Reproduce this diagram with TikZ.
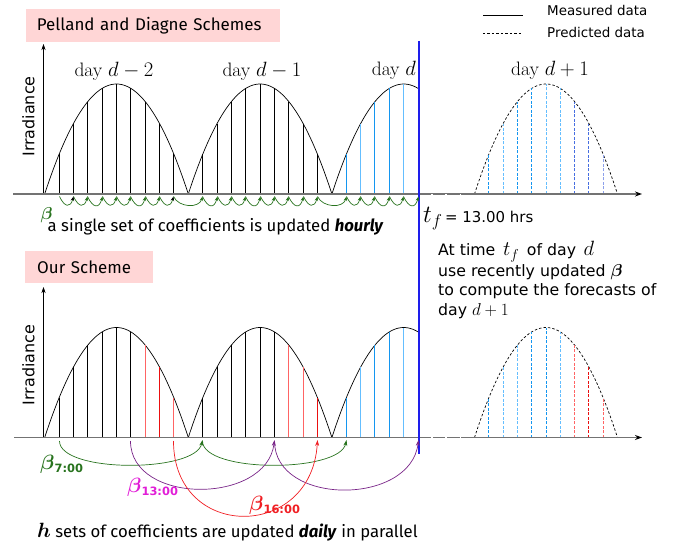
\documentclass[tikz,border=0pt]{standalone}
\usepackage{fontspec}
\usepackage{amsmath}
\usetikzlibrary{arrows.meta,calc}
\newfontfamily\ubu{Fira Sans}
\newfontfamily\dvs{DejaVu Sans}
\definecolor{pinkbox}{RGB}{255,214,214}
\definecolor{gline}{RGB}{115,115,115}
\definecolor{garrow}{RGB}{40,115,30}
\definecolor{parrow}{RGB}{120,35,135}
\definecolor{rarrow}{RGB}{240,30,35}
\definecolor{magl}{RGB}{225,30,215}
\definecolor{skyA}{RGB}{20,150,240}
\definecolor{skyB}{RGB}{100,190,255}
\definecolor{skyC}{RGB}{70,110,225}
\definecolor{skyD}{RGB}{140,160,235}
\definecolor{redA}{RGB}{255,100,100}
\definecolor{redB}{RGB}{235,15,15}
\definecolor{vblue}{RGB}{30,30,235}
\newcommand\mth[2]{{\fontsize{#1}{#1}\selectfont$#2$}}
\newcommand\subl[1]{\raisebox{-4pt}{\dvs\bfseries\fontsize{11.5}{11.5}\selectfont #1}}
\begin{document}
\begin{tikzpicture}[x=1bp,y=-1bp,
  curve/.style={black, line width=0.7pt},
  pcurve/.style={black, line width=0.7pt, dash pattern=on 2.5pt off 2pt},
  vline/.style={line width=1bp},
  dvline/.style={line width=1bp, dash pattern=on 3bp off 1.5bp},
  axisline/.style={gline, line width=1.5pt, -{Stealth[black,length=7pt,width=5pt]}},
  yaxis/.style={black, line width=0.6pt, -{Stealth[length=6pt,width=4pt]}},
  hop/.style={garrow, line width=0.7pt, -{Stealth[length=4.5pt,width=3.5pt]}, out=-65, in=-105, looseness=2.2},
  longhop/.style={hop, looseness=1.1},
  bigarrow/.style={line width=0.7pt, -{Stealth[length=6pt,width=4pt]}},
  titlebox/.style={fill=pinkbox, inner ysep=0pt, align=left, anchor=west, font=\ubu\fontsize{17}{17}\selectfont},
  daylabel/.style={font=\fontsize{19.5}{20}\selectfont, anchor=base},
  sidetext/.style={font=\dvs\fontsize{15.8}{15.8}\selectfont, anchor=base west, inner sep=0pt},
  legtext/.style={font=\dvs\fontsize{13.5}{13.5}\selectfont, anchor=base west, inner sep=0pt},
  ylab/.style={font=\dvs\fontsize{16}{16}\selectfont, rotate=90, anchor=base, inner sep=0pt},
  captext/.style={font=\ubu\fontsize{16.8}{16.8}\selectfont, anchor=base west, inner sep=0pt}
]
\useasboundingbox (0,0) rectangle (675,543);

% ---------- titles and legend
\node[titlebox, inner xsep=10.7bp, text width=232.6bp, minimum height=33bp] (t1) at (26,25.5) {Pelland and Diagne Schemes};
\node[titlebox, inner xsep=12bp, text width=104bp, minimum height=32bp] (t2) at (25,267) {Our Scheme};
\coordinate (l1a) at (483,15.7); \coordinate (l1b) at (523,15.7);
\coordinate (l2a) at (483,33.3); \coordinate (l2b) at (523,33.3);
\draw[curve] (l1a) -- (l1b);
\draw[pcurve] (l2a) -- (l2b);
\node[legtext] (lg1) at (547,16) {Measured data};
\node[legtext] (lg2) at (547,38) {Predicted data};

% ---------- axes
\node[ylab] (yl1) at (34.3,116.5) {Irradiance};
\node[ylab] (yl2) at (34.3,365) {Irradiance};
\coordinate (o1) at (43.5,194); \coordinate (y1) at (43.5,44);
\coordinate (o2) at (43.5,437.5); \coordinate (y2) at (43.5,287);
\draw[yaxis] (o1) -- (y1);
\draw[yaxis] (o2) -- (y2);

% ---------- parabolas
\foreach \B in {194,437.5}{
  \draw[curve] plot[domain=0:10,samples=61] ({44.7+\x*14.36},{\B-110*(1-((\x-5)/5)*((\x-5)/5))});
  \draw[curve] plot[domain=0:10,samples=61] ({188.3+\x*14.36},{\B-110*(1-((\x-5)/5)*((\x-5)/5))});
  \draw[curve] plot[domain=0:6,samples=41] ({331.9+\x*14.36},{\B-110*(1-((\x-5)/5)*((\x-5)/5))});
  \draw[pcurve] plot[domain=0:10,samples=61] ({474.5+\x*14.3},{\B-110*(1-((\x-5)/5)*((\x-5)/5))});
}

% ---------- vertical lines, top panel
\foreach \k/\col in {1/black,2/black,3/black,4/black,5/black,6/black,7/black,8/black,9/black,
  11/black,12/black,13/black,14/black,15/black,16/black,17/black,18/black,19/black,
  21/skyA,22/skyB,23/skyA,24/skyA,25/skyB}{
  \pgfmathsetmacro\xx{floor(44.7+\k*14.36)+0.5}
  \pgfmathtruncatemacro\ii{mod(\k,10)}
  \pgfmathsetmacro\hh{110*(1-((\ii-5)/5)*((\ii-5)/5))}
  \draw[vline,draw=\col] (\xx,194) -- (\xx,194-\hh);
}
\foreach \ii/\col in {1/skyA,2/skyB,3/skyA,4/skyA,5/skyB,6/skyB,7/skyC,8/skyC,9/skyD}{
  \pgfmathsetmacro\xx{floor(474.5+\ii*14.3)+0.5}
  \pgfmathsetmacro\hh{110*(1-((\ii-5)/5)*((\ii-5)/5))}
  \draw[dvline,draw=\col] (\xx,194) -- (\xx,194-\hh);
}
% ---------- vertical lines, bottom panel
\foreach \k/\col in {1/black,2/black,3/black,4/black,5/black,6/black,7/redA,8/redB,9/redA,
  11/black,12/black,13/black,14/black,15/black,16/black,17/redA,18/redA,19/redB,
  21/skyA,22/skyB,23/skyA,24/skyA,25/skyB}{
  \pgfmathsetmacro\xx{floor(44.7+\k*14.36)+0.5}
  \pgfmathtruncatemacro\ii{mod(\k,10)}
  \pgfmathsetmacro\hh{110*(1-((\ii-5)/5)*((\ii-5)/5))}
  \draw[vline,draw=\col] (\xx,437.5) -- (\xx,437.5-\hh);
}
\foreach \ii/\col in {1/skyA,2/skyB,3/skyB,4/skyA,5/skyA,6/skyB,7/redA,8/redB,9/redA}{
  \pgfmathsetmacro\xx{floor(474.5+\ii*14.3)+0.5}
  \pgfmathsetmacro\hh{110*(1-((\ii-5)/5)*((\ii-5)/5))}
  \draw[dvline,draw=\col] (\xx,437.5) -- (\xx,437.5-\hh);
}

% ---------- baselines
\coordinate (bs1) at (13,194); \coordinate (be1) at (642,194);
\coordinate (bs2) at (14,437.5); \coordinate (be2) at (642,437.5);
\draw[axisline] (bs1) -- (be1);
\draw[axisline] (bs2) -- (be2);
\draw[white, line width=0.5pt, dash pattern=on 1.5pt off 13pt] (431,194) -- (466,194);
\draw[white, line width=0.5pt, dash pattern=on 1.5pt off 13pt] (431,437.5) -- (466,437.5);

% ---------- anchor coordinates
\foreach \k in {1,...,26}{
  \pgfmathsetmacro\xx{floor(44.7+\k*14.36)+0.5}
  \coordinate (a\k) at (\xx,196.5);
  \coordinate (b\k) at (\xx,441);
  \coordinate (c\k) at (\xx,440);
}

% ---------- t_f line
\coordinate (vt) at (418.5,41); \coordinate (vb) at (418.5,454);
\draw[vblue, line width=2bp] (vt) -- (vb);

% ---------- day labels
\node[daylabel] (d1) at (114,77) {day $d-2$};
\node[daylabel] (d2) at (262,77) {day $d-1$};
\node[daylabel, anchor=base east] (d3) at (419.5,76) {day $d$};
\node[daylabel] (d4) at (550,76) {day $d+1$};

% ---------- hourly hops
\foreach \s/\e in {2/3,3/4,4/5,5/6,6/7,7/8,11/12,12/13,13/14,14/15,15/16,16/17,17/18,18/19,21/22,22/23,23/24,24/25,25/26}{
  \draw[hop] (a\s) to (a\e);
}
\draw[hop, -{Stealth[black,length=4.5pt,width=3.5pt]}] (a1) to (a2);
\draw[hop, -{Stealth[black,length=4.5pt,width=3.5pt]}] (a8) to (a9);
\draw[longhop] (a9) to (a11);
\draw[longhop] (a19) to (a21);

\node[garrow, font=\fontsize{19}{19}\selectfont, inner sep=0pt] (bt) at (46.5,215) {$\boldsymbol{\beta}$};
\node[captext] (cap1) at (47.5,232) {a single set of coefficients is updated \textbf{\textit{hourly}}};
\node[anchor=base west, inner sep=0pt] (tf) at (423,223) {\mth{24}{t_f}{\dvs\fontsize{15}{15}\selectfont\,= 13.00 hrs}};

\node[sidetext] (s1) at (438,256) {At time\, \mth{20}{t_f}\, of day\, \mth{20}{d}};
\node[sidetext] (s2) at (438,276.5) {use recently updated \mth{16.5}{\boldsymbol{\beta}}};
\node[sidetext] (s3) at (438,295.5) {to compute the forecasts of};
\node[sidetext] (s4) at (438,315) {day \mth{19}{d+1}};

% ---------- daily arrows
\draw[bigarrow, garrow] (b1) .. controls ($(b1)+(0,32)$) and ($(c11)+(-7,33)$) .. (c11);
\draw[bigarrow, garrow] (b11) .. controls ($(b11)+(0,32)$) and ($(c21)+(-7,33)$) .. (c21);
\draw[bigarrow, parrow] (b6) .. controls ($(b6)+(0,64)$) and ($(c16)+(-8,65)$) .. (c16);
\draw[bigarrow, parrow] (b16) .. controls ($(b16)+(0,65)$) and ($(c26)+(-8,66)$) .. (c26);
\draw[bigarrow, rarrow] (b9) .. controls ($(b9)+(0,100)$) and ($(c19)+(-6,101)$) .. (c19);

\node[garrow, inner sep=0pt, anchor=base west] (l7) at (40,469) {\mth{20}{\boldsymbol{\beta}}\subl{7:00}};
\node[magl, inner sep=0pt, anchor=base west] (l13) at (127,492) {\mth{20}{\boldsymbol{\beta}}\subl{13:00}};
\node[rarrow, inner sep=0pt, anchor=base west] (l16) at (249,510) {\mth{20}{\boldsymbol{\beta}}\subl{16:00}};

\node[captext] (cap2) at (37,537) {\mth{20}{\boldsymbol{h}} sets of coefficients are updated \textbf{\textit{daily}} in parallel};
\end{tikzpicture}
\end{document}
